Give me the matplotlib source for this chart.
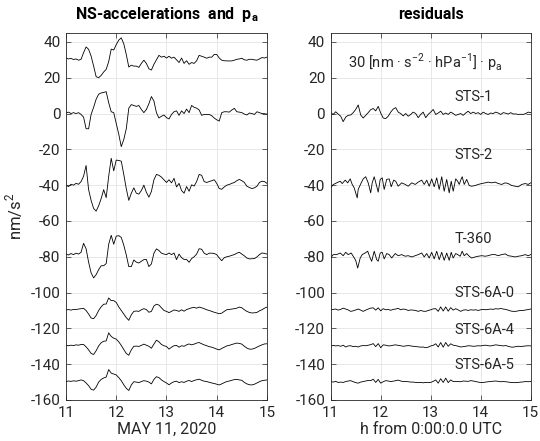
import numpy as np
import matplotlib
matplotlib.use("Agg")
import matplotlib.pyplot as plt

plt.rcParams['font.family'] = ['Roboto', 'DejaVu Sans']
plt.rcParams['font.size'] = 10
plt.rcParams['axes.unicode_minus'] = False

## DATA ##
# sample times (h), 0.05 h spacing
hours = np.round(np.arange(11.0, 15.0001, 0.05), 2)

# NS-accelerations and pressure, deviation from trace baseline (nm/s^2)
pa_dev = [1.0, 0.5, 0.8, 0.2, 0.5, -0.2, 0.3, 4.0, 7.2, 5.9,
          2.1, -3.5, -9.4, -10.0, -8.7, -6.8, -5.3, -1.0, 6.0, 5.5,
          8.5, 11.0, 12.3, 9.0, 3.0, -4.0, -3.0, -3.5, -3.5, -4.2,
          -2.0, -0.2, -2.0, -5.0, -5.7, -2.5, 0.0, 2.5, 1.5, 2.0,
          1.0, 2.0, 0.9, 1.5, 0.0, -1.5, 1.0, -2.0, -0.5, -2.5,
          -1.5, -2.0, -0.5, 2.5, 2.0, 1.5, 0.9, 1.5, 1.5, 3.0,
          3.0, 1.0, -0.2, -0.5, -0.6, -0.6, -0.6, -0.2, 0.3, 0.5,
          0.9, 0.0, -0.2, 0.3, 0.3, 0.0, -0.2, 0.5, 1.3, 1.0,
          1.5]
sts1_dev = [0.3, 0.8, 0.0, 0.5, 0.0, 0.5, -0.5, -2.0, -8.5, -8.5,
            -0.5, 3.5, 8.0, 10.8, 11.5, 11.8, 12.2, 6.0, 1.0, 0.5,
            -5.5, -11.5, -18.5, -14.5, -8.5, 3.0, 5.0, 4.5, 4.0, 4.5,
            2.3, 0.5, 2.3, 5.5, 9.5, 7.0, 0.5, -2.5, -1.5, -0.8,
            -2.3, -3.0, -0.5, 1.0, 1.5, -1.0, 1.5, 0.0, 2.5, 0.5,
            4.5, 3.5, 3.0, 2.0, -1.0, -0.5, -0.5, -0.5, -1.2, -2.5,
            -3.5, -4.2, 0.5, 1.0, 1.0, 0.8, 2.0, 2.9, 1.0, 0.8,
            0.5, -0.3, -0.8, 0.3, 0.0, -0.5, 1.0, 0.5, 0.0, -0.1,
            -0.3]
sts2_dev = [0.0, -0.8, 0.5, 0.0, 1.0, 0.5, 2.0, 5.0, 11.0, -2.5,
            -8.5, -13.0, -14.5, -11.5, -7.5, -2.5, -7.0, 5.0, 15.0, 8.0,
            14.0, 13.8, 13.4, 6.0, -2.0, -8.5, -4.5, -1.5, -4.5, -5.0,
            -3.0, 0.0, -4.0, -6.7, -3.5, 3.0, 6.0, 5.5, 4.5, 3.0,
            1.5, 3.0, 1.3, 3.8, -1.0, 1.0, -3.0, -4.5, -0.8, -3.4,
            0.2, -0.5, 2.0, 6.0, 5.5, 2.0, 1.5, 2.0, 2.5, 3.0,
            1.0, -1.9, -2.3, -1.0, 0.0, 0.4, 1.0, 1.5, 2.5, 3.2,
            2.5, 1.5, -0.6, -1.3, -1.9, -1.5, -0.6, 1.5, 2.2, 2.0,
            1.0]
t360_dev = [1.5, 1.0, 1.8, 1.2, 2.0, 1.5, 2.5, 7.5, 4.5, -3.0,
            -9.0, -11.8, -10.0, -7.2, -5.0, -5.0, -3.8, 7.0, 12.0, 7.0,
            11.5, 11.8, 10.8, 6.5, 1.0, -5.5, -5.5, -1.8, -3.0, -3.5,
            -2.5, -1.6, -1.5, -5.5, -4.0, 2.0, 4.4, 3.5, 2.0, 1.5,
            1.2, 2.1, 1.2, 2.1, -1.6, 1.5, -0.5, -1.5, -1.5, -3.1,
            -1.0, 0.0, 1.5, 4.5, 4.2, 2.0, 1.2, 2.0, 2.0, 1.8,
            1.2, -0.7, -2.2, -0.5, 0.0, 0.3, 0.8, 1.2, 2.0, 2.5,
            1.5, 0.5, -0.7, -1.2, -1.1, -1.0, -0.1, 1.2, 2.1, 1.9,
            1.5]
sts6a0_dev = [0.3, 0.5, 0.2, 0.6, 0.5, 0.8, 1.0, 1.2, 0.0, -2.0,
              -4.2, -4.6, -2.8, 0.0, 2.0, 3.5, 3.6, 7.0, 5.5, 5.5,
              4.5, 2.0, 0.0, -2.0, -4.0, -5.5, -2.4, -0.5, -0.3, -0.5,
              0.4, 1.0, 0.5, -1.0, -0.5, 2.5, 3.5, 3.0, 1.5, 0.0,
              -0.5, -1.2, -0.5, 0.3, 0.0, -0.5, 0.4, -0.4, 0.5, 1.0,
              1.5, 1.7, 1.3, 1.9, 1.5, 1.0, 0.4, 0.0, -0.5, -1.0,
              -1.4, -1.8, -1.5, -0.5, 0.4, 0.6, 0.8, 1.0, 1.3, 1.9,
              1.5, 0.4, -0.5, -1.1, -1.4, -1.3, -1.1, -0.2, 0.4, 1.3,
              1.9]
sts6a4_dev = [0.5, 0.3, 0.6, 0.4, 0.8, 0.6, 1.0, 1.0, -0.3, -2.0,
              -4.0, -4.6, -2.5, 0.2, 2.0, 2.8, 3.0, 7.5, 5.5, 4.5,
              4.0, 2.5, 0.5, -1.8, -4.0, -5.0, -2.0, 0.0, 0.1, -0.1,
              0.5, 1.2, 0.6, 0.0, -1.1, 1.2, 3.4, 2.5, 1.0, 0.3,
              -0.1, -1.6, -0.5, 0.3, 0.5, -0.5, 0.3, 0.0, 0.8, 1.3,
              0.8, 1.2, 1.8, 2.1, 1.4, 0.8, 0.3, -0.2, -0.5, -1.0,
              -1.6, -2.0, -1.2, -0.5, 0.2, 0.5, 1.0, 1.4, 1.8, 1.6,
              1.2, 0.0, -1.0, -1.6, -1.6, -1.2, -0.5, 0.2, 0.8, 1.3,
              1.4]
sts6a5_dev = [0.3, 0.6, 0.4, 0.7, 0.5, 0.8, 1.2, 0.8, -0.5, -2.0,
              -4.0, -4.5, -2.8, 0.0, 1.5, 2.3, 2.8, 7.0, 5.0, 4.5,
              4.0, 2.5, 0.8, -1.5, -3.5, -4.7, -1.6, 0.2, 0.0, -0.3,
              0.3, 0.8, 0.5, 0.0, -1.0, 1.5, 3.0, 2.5, 1.2, 0.3,
              -0.5, -1.5, -0.5, 0.2, 0.5, -0.3, 0.2, -0.2, 0.5, 0.9,
              0.3, 0.9, 1.3, 1.6, 1.0, 0.5, 0.3, -0.1, -0.5, -0.8,
              -1.2, -1.6, -1.0, -0.3, 0.3, 0.6, 1.0, 1.4, 1.5, 1.2,
              1.0, -0.2, -1.0, -1.5, -1.6, -1.2, -0.5, 0.2, 0.8, 1.0,
              1.2]
left_offsets = [30, 0, -40, -80, -110, -130, -150]

# residuals (nm/s^2)
res_sts1 = [0.5, -0.5, 1.0, -0.3, -1.5, -4.5, -2.0, -1.0, -0.8, 0.5,
            2.3, 4.8, -0.8, -2.5, -1.0, 0.5, 2.2, 2.8, 1.5, 4.0,
            0.3, -2.5, -2.8, -1.5, 0.8, 2.5, 3.3, 0.8, 0.0, -1.3,
            0.0, -1.5, -0.5, 0.8, 0.0, -2.3, -0.5, 0.8, -2.3, -0.5,
            0.8, 2.3, -0.5, 0.3, 1.3, -0.5, 0.3, -0.5, 0.8, 0.0,
            -1.0, -0.5, 0.0, -1.0, 0.3, 1.3, 0.0, 0.8, 0.0, 0.5,
            -0.5, 0.8, 0.0, -0.5, 0.3, 0.0, 0.8, 0.3, -0.5, 0.5,
            0.2, -0.3, 0.5, -0.3, -0.2, -0.5, -0.4, -0.5, 0.0, 0.8,
            0.5]
t_res_sts2 = [11.00, 11.05, 11.12, 11.19, 11.23, 11.29, 11.34, 11.39, 11.43, 11.47,
              11.53, 11.55, 11.61, 11.65, 11.70, 11.75, 11.80, 11.83, 11.87, 11.92,
              11.95, 11.99, 12.03, 12.07, 12.12, 12.17, 12.21, 12.26, 12.30, 12.35,
              12.42, 12.49, 12.55, 12.62, 12.69, 12.75, 12.82, 12.87, 12.92, 12.97,
              13.02, 13.07, 13.12, 13.17, 13.22, 13.27, 13.32, 13.37, 13.41, 13.45,
              13.50, 13.54, 13.57, 13.61, 13.63, 13.67, 13.72, 13.77, 13.82, 13.89,
              13.95, 14.02, 14.09, 14.15, 14.22, 14.29, 14.35, 14.42, 14.49, 14.55,
              14.62, 14.69, 14.75, 14.82, 14.89, 14.95, 15.00]
res_sts2 = [-1.5, 0.3, 1.3, 2.2, 0.9, 2.8, 1.3, 3.5, 0.4, -1.5,
            -7.1, -2.4, 1.3, 3.5, 4.7, 1.3, -4.3, 1.3, 4.7, -0.6,
            -3.9, 3.2, 4.1, -2.4, 3.2, 3.5, -0.9, 2.8, 2.2, -0.6,
            1.3, 0.4, -0.6, 1.3, 0.4, 1.7, 2.8, 0.4, 2.8, -0.6,
            3.5, -0.9, 4.1, -2.4, 4.7, -3.4, 3.2, -4.3, 2.2, -3.4,
            3.5, 2.2, 0.4, 3.5, 4.7, 0.4, 3.2, -0.2, -0.6, -0.2,
            0.4, 0.9, 1.3, 1.7, 1.3, 1.7, 0.9, 0.4, 1.3, 0.9,
            -0.2, -0.6, -0.9, 0.4, 0.9, 0.4, 1.3]
t_res_t360 = [11.00, 11.05, 11.12, 11.19, 11.25, 11.30, 11.35, 11.41, 11.45, 11.50,
              11.54, 11.59, 11.63, 11.69, 11.74, 11.79, 11.82, 11.87, 11.92, 11.95,
              11.99, 12.03, 12.07, 12.12, 12.17, 12.22, 12.29, 12.35, 12.42, 12.49,
              12.55, 12.62, 12.69, 12.75, 12.82, 12.87, 12.92, 12.97, 13.02, 13.07,
              13.12, 13.17, 13.22, 13.27, 13.32, 13.37, 13.41, 13.45, 13.50, 13.54,
              13.59, 13.63, 13.67, 13.72, 13.77, 13.82, 13.89, 13.95, 14.02, 14.09,
              14.15, 14.22, 14.29, 14.35, 14.42, 14.49, 14.55, 14.62, 14.69, 14.75,
              14.82, 14.89, 14.95, 15.00]
res_t360 = [-0.7, 1.2, 1.2, 2.1, 0.6, 2.5, 1.2, 2.1, 0.3, -2.0,
            -6.3, -0.7, 1.2, 2.1, 3.1, -0.7, -2.5, 3.1, -1.6, -2.5,
            2.1, 2.5, -1.2, 1.8, 1.2, -0.7, 1.8, 0.6, 1.2, 0.3,
            0.6, -0.1, 0.6, 1.2, 2.1, -0.1, 1.8, -0.7, 2.5, -1.2,
            3.1, -1.6, 2.5, -2.0, 2.1, -2.0, 2.5, -0.7, 1.8, 1.2,
            0.3, 3.1, 0.6, 1.8, 0.3, -0.7, -0.1, 0.3, 0.6, 0.3,
            0.6, 1.2, 1.2, 0.6, 1.2, 1.6, 0.6, 0.3, -0.1, 0.3,
            0.6, 1.2, 0.6, 1.2]
res_sts6a0 = [0.4, 0.6, 0.8, 0.2, 0.6, 1.3, 0.8, 0.3, -0.5, -0.2,
              0.3, 0.8, 0.2, -0.5, 0.2, 0.8, 1.3, 1.5, 0.2, 1.5,
              -0.2, 1.0, 0.4, 0.6, 0.1, 0.6, 0.8, 1.2, 0.4, 0.8,
              0.6, 0.0, 0.3, 0.2, 0.0, -0.5, 0.0, -0.4, -0.5, 0.0,
              0.4, 0.9, 1.0, -0.5, 2.0, -0.3, 2.0, -0.4, 1.6, 0.2,
              1.0, 0.3, -0.5, 0.2, 0.4, 0.0, 0.4, 0.2, 0.4, 0.0,
              0.4, 0.6, 0.4, 0.6, 0.8, 0.6, 1.0, 0.8, 1.1, 0.8,
              0.6, 0.2, -0.3, -0.5, -0.5, -0.2, 0.0, 0.0, 0.3, 0.5,
              0.8]
res_sts6a4 = [0.0, 0.5, 0.2, 0.4, 0.0, 0.6, -0.4, 0.2, 0.3, -0.2,
              0.0, -0.4, 0.2, 0.4, 0.3, 0.6, 0.9, 1.5, -0.2, 1.5,
              -0.8, 0.8, 0.6, 0.2, 0.3, 0.6, 0.8, 0.5, 0.3, 0.0,
              0.2, 0.4, 0.2, 0.0, -0.2, -0.3, -0.5, -0.4, -0.8, -0.5,
              0.2, 0.5, 1.4, -0.4, 2.1, -0.5, 2.1, 0.0, 1.4, 0.6,
              0.4, 0.0, -0.4, -0.2, 0.0, 0.3, 0.2, 0.0, 0.1, 0.3,
              0.2, 0.5, 0.6, 0.3, 0.2, 0.5, 0.8, 0.6, 0.4, 0.2,
              0.4, 0.0, -0.4, -0.5, -0.2, 0.0, -0.1, 0.0, 0.2, 0.3,
              0.2]
res_sts6a5 = [0.3, 0.0, 0.4, -0.2, 0.0, -0.2, 0.3, 0.6, 0.8, 0.2,
              -0.3, -0.6, 0.0, 0.3, 0.6, 0.9, 0.8, 1.6, -0.2, 1.5,
              -0.6, 0.2, 0.8, 0.6, 0.3, 0.5, 0.8, 1.1, 0.6, 0.3,
              0.3, 0.2, 0.0, 0.0, -0.2, -0.3, -0.2, -0.4, -0.2, -0.3,
              -0.2, 0.4, 1.2, -0.6, 1.9, -0.2, 2.2, -0.3, 1.2, 0.3,
              0.4, 0.3, 0.2, 0.6, 0.5, 0.4, 0.8, 0.6, 0.3, 0.0,
              -0.3, -0.2, 0.0, 0.2, 0.3, 0.5, 0.6, 0.4, 0.2, 0.3,
              0.2, 0.0, -0.2, -0.3, -0.3, -0.2, 0.0, 0.1, 0.3, 0.2,
              0.3]
res_names = ["STS-1", "STS-2", "T-360", "STS-6A-0", "STS-6A-4", "STS-6A-5"]
res_offsets = [0, -40, -80, -110, -130, -150]

AX_COLOR = "#262626"


def style_axes(ax):
    ax.set_xlim(11, 15)
    ax.set_ylim(-160, 45)
    ax.set_xticks([11, 12, 13, 14, 15])
    ax.set_yticks(np.arange(-160, 41, 20))
    ax.grid(True, color="#dedede", linewidth=0.5)
    ax.set_axisbelow(True)
    ax.tick_params(direction="in", length=3.5, width=0.5, colors=AX_COLOR,
                   top=True, right=True, labelsize=11, pad=4)
    for sp in ax.spines.values():
        sp.set_color(AX_COLOR)
        sp.set_linewidth(0.6)


fig = plt.figure(figsize=(5.4, 4.41), dpi=100)
ax1 = fig.add_axes([0.1222, 0.0930, 0.3722, 0.8322])
ax2 = fig.add_axes([0.6124, 0.0930, 0.3704, 0.8322])

## LEFT: NS-accelerations and p_a ##
left_traces = [pa_dev, sts1_dev, sts2_dev, t360_dev,
               sts6a0_dev, sts6a4_dev, sts6a5_dev]
for dev, off in zip(left_traces, left_offsets):
    ax1.plot(hours, np.array(dev) + off, color="black", linewidth=0.6)

style_axes(ax1)
ax1.set_title(r"NS-accelerations  and  p$_\mathregular{a}$",
              fontweight="bold", fontsize=11.5, pad=10)
ax1.set_xlabel("MAY 11, 2020", color=AX_COLOR, fontsize=11.5, labelpad=2)
ax1.set_ylabel(r"nm/s$^\mathregular{2}$", color=AX_COLOR, fontsize=12,
               labelpad=4)

## RIGHT: residuals ##
res_times = [hours, t_res_sts2, t_res_t360, hours, hours, hours]
res_traces = [res_sts1, res_sts2, res_t360, res_sts6a0, res_sts6a4, res_sts6a5]
for t, dev, off in zip(res_times, res_traces, res_offsets):
    ax2.plot(t, np.array(dev) + off, color="black", linewidth=0.6)

label_x = [13.85, 13.85, 13.85, 14.07, 14.07, 14.07]
label_dy = [9, 17, 10, 10, 9, 9.5]
for name, off, lx, dy in zip(res_names, res_offsets, label_x, label_dy):
    ax2.text(lx, off + dy, name, ha="center", va="center", color=AX_COLOR,
             fontsize=10.5)

ax2.text(12.9, 28.5,
         r"30 [nm · s$^\mathregular{-2}$ · hPa$^\mathregular{-1}$] · p$_\mathregular{a}$",
         ha="center", va="center", color=AX_COLOR, fontsize=10.5)

style_axes(ax2)
ax2.set_title("residuals", fontweight="bold", fontsize=11.5, pad=10)
ax2.set_xlabel("h from 0:00:0.0 UTC", color=AX_COLOR, fontsize=11.5,
               labelpad=2)

fig.savefig("out.png", dpi=100)
